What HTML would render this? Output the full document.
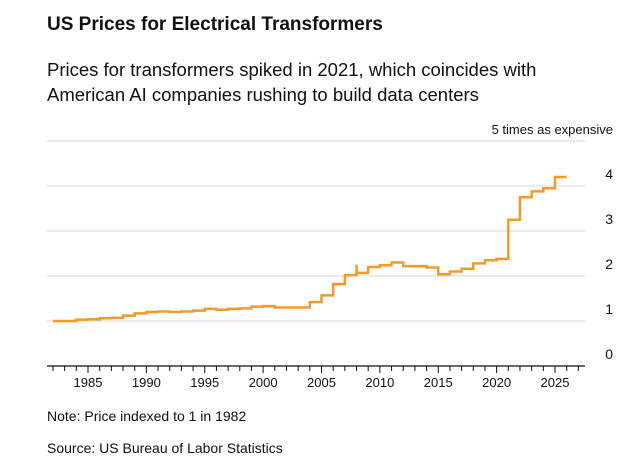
<!DOCTYPE html>
<html><head><meta charset="utf-8"><style>
body{margin:0;background:#fff;font-family:"Liberation Sans",sans-serif;}
#wrap{position:relative;width:629px;height:473px;overflow:hidden;}
.t{position:absolute;color:#111;}
</style></head><body>
<div id="wrap">
<div class="t" style="left:47px;top:14px;font-size:19px;font-weight:bold;">US Prices for Electrical Transformers</div>
<div class="t" style="left:47px;top:57px;font-size:18.5px;line-height:25px;">Prices for transformers spiked in 2021, which coincides with<br>American AI companies rushing to build data centers</div>
<svg id="chart" width="629" height="473" style="position:absolute;left:0;top:0"></svg>
<div class="t" style="left:47px;top:408px;font-size:14px;">Note: Price indexed to 1 in 1982</div>
<div class="t" style="left:47px;top:440px;font-size:14px;">Source: US Bureau of Labor Statistics</div>
</div>
<script>
const years=[1982,1983,1984,1985,1986,1987,1988,1989,1990,1991,1992,1993,1994,1995,1996,1997,1998,1999,2000,2001,2002,2003,2004,2005,2006,2007,2008,2009,2010,2011,2012,2013,2014,2015,2016,2017,2018,2019,2020,2021,2022,2023,2024,2025];
const values=[1.0,1.0,1.03,1.04,1.06,1.07,1.12,1.17,1.2,1.21,1.2,1.21,1.23,1.27,1.25,1.27,1.28,1.32,1.33,1.3,1.3,1.3,1.42,1.57,1.82,2.02,2.07,2.2,2.24,2.3,2.22,2.22,2.19,2.04,2.1,2.16,2.28,2.35,2.38,3.25,3.75,3.88,3.95,4.2];
const spikeYears=[2008];
const spikeValues=[2.25];
const yTicks=[0,1,2,3,4];
const xTicks=[1985,1990,1995,2000,2005,2010,2015,2020,2025];
const endYear=2026;
const svg=document.getElementById('chart');const NS='http://www.w3.org/2000/svg';
const x=v=>88+(v-1985)*(555-88)/40;
const y=v=>366-v*45;
function mk(t,a){const e=document.createElementNS(NS,t);for(const k in a)e.setAttribute(k,a[k]);svg.appendChild(e);return e;}
for(const v of [1,2,3,4,5]){const l=mk('line',{x1:47,x2:585,y1:y(v),y2:y(v),stroke:'#d9d9d9','stroke-width':1});

}
for(const v of yTicks){const t=mk('text',{x:613,y:y(v)-7,'text-anchor':'end','font-size':14,fill:'#111'});t.textContent=v;

}
const yl=mk('text',{x:613,y:134,'text-anchor':'end','font-size':13,fill:'#111'});yl.textContent='5 times as expensive';


const ax=mk('line',{x1:47,x2:585,y1:366,y2:366,stroke:'#111','stroke-width':1.3});


for(let yr=1982;yr<=2027;yr++){const tk=mk('line',{x1:x(yr),x2:x(yr),y1:366,y2:yr%5===0?373:371,stroke:'#111','stroke-width':1});

}
for(const v of xTicks){const t=mk('text',{x:x(v),y:387,'text-anchor':'middle','font-size':13,fill:'#111'});t.textContent=v;

}
let d='';
for(let i=0;i<years.length;i++){const x0=x(years[i]),x1=x(i+1<years.length?years[i+1]:endYear);
d+=(i===0?'M':'L')+x0+','+y(values[i])+'L'+x1+','+y(values[i]);}
for(let j=0;j<spikeYears.length;j++){const i=years.indexOf(spikeYears[j]);const xs=x(spikeYears[j]);
d+='M'+xs+','+y(values[i])+'L'+xs+','+y(spikeValues[j]);}
const p=mk('path',{d:d,fill:'none',stroke:'#f59a2a','stroke-width':2.5,'stroke-linejoin':'miter'});


</script>
</body></html>
